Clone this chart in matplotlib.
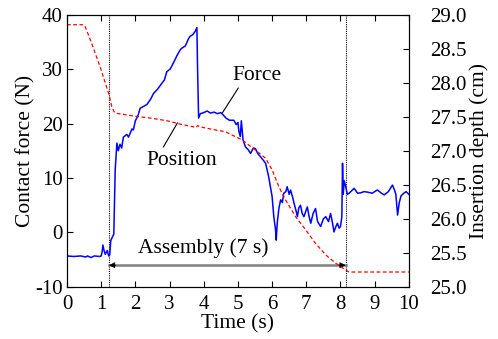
import numpy as np
import matplotlib.pyplot as plt

plt.rcParams['font.family'] = ['Liberation Serif', 'DejaVu Serif']
plt.rcParams['font.size'] = 15.5
plt.rcParams['axes.unicode_minus'] = False

# contact force (N) vs time (s)
force_t = [0.0, 0.2, 0.4, 0.55, 0.6, 0.7, 0.8, 0.95, 1.0, 1.03,
           1.05, 1.08, 1.12, 1.18, 1.22, 1.25, 1.28, 1.33, 1.37, 1.39,
           1.41, 1.44, 1.46, 1.5, 1.55, 1.6, 1.65, 1.75, 1.8, 1.9,
           1.94, 2.0, 2.08, 2.14, 2.2, 2.34, 2.45, 2.53, 2.65, 2.73,
           2.85, 2.92, 3.02, 3.12, 3.22, 3.32, 3.4, 3.46, 3.55, 3.6,
           3.68, 3.75, 3.8, 3.82, 3.85, 3.9, 4.0, 4.1, 4.2, 4.3,
           4.4, 4.5, 4.58, 4.65, 4.75, 4.88, 4.95, 5.0, 5.03, 5.07,
           5.1, 5.15, 5.22, 5.3, 5.37, 5.45, 5.51, 5.58, 5.66, 5.75,
           5.81, 5.9, 6.0, 6.05, 6.1, 6.12, 6.15, 6.2, 6.25, 6.3,
           6.34, 6.4, 6.44, 6.5, 6.54, 6.6, 6.64, 6.7, 6.74, 6.78,
           6.83, 6.88, 6.93, 6.98, 7.03, 7.08, 7.13, 7.2, 7.27, 7.33,
           7.42, 7.5, 7.57, 7.65, 7.71, 7.76, 7.81, 7.86, 7.91, 7.96,
           8.0, 8.04, 8.06, 8.08, 8.11, 8.15, 8.2, 8.25, 8.3, 8.4,
           8.5, 8.6, 8.69, 8.8, 8.93, 9.0, 9.08, 9.2, 9.28, 9.4,
           9.52, 9.58, 9.62, 9.67, 9.72, 9.77, 9.85, 9.92, 10.0]
force_n = [-4.3, -4.4, -4.3, -4.5, -4.3, -4.6, -4.3, -4.4, -4.3, -3.5,
           -2.3, -3.2, -4.0, -3.3, -4.3, -4.1, -1.5, -0.8, -0.3, 6.0,
           11.5, 14.5, 16.4, 15.0, 16.2, 15.5, 17.5, 18.0, 17.5, 19.0,
           18.8, 20.5, 21.5, 22.8, 23.0, 23.5, 24.5, 25.5, 26.3, 27.0,
           28.0, 29.5, 30.0, 31.2, 32.5, 33.6, 34.0, 34.2, 35.5, 36.0,
           36.3, 36.9, 37.6, 30.0, 21.0, 21.8, 22.0, 22.3, 21.9, 22.1,
           21.8, 22.0, 21.5, 21.0, 20.6, 20.6, 19.8, 20.2, 18.5, 17.6,
           20.5, 17.0, 15.7, 15.2, 14.5, 15.5, 15.4, 14.5, 13.9, 13.2,
           12.7, 10.2, 6.6, 2.9, 0.5, -1.4, 1.7, 4.5, 6.0, 5.5,
           7.2, 7.5, 8.4, 7.0, 7.8, 6.5, 5.4, 4.0, 2.9, 4.5,
           5.0, 3.5, 2.9, 3.8, 4.7, 3.0, 1.7, 3.5, 4.4, 2.0,
           1.1, 2.5, 2.9, 2.0, 3.5, 2.0, 0.1, 1.0, 1.7, 0.8,
           1.1, 2.9, 12.7, 7.0, 9.5, 8.5, 7.0, 7.2, 7.5, 8.1,
           7.2, 7.3, 7.5, 7.4, 7.2, 7.5, 7.8, 7.2, 6.9, 7.5,
           8.7, 7.8, 7.0, 3.2, 5.5, 6.7, 7.2, 7.5, 7.0]

# insertion depth (cm) vs time (s)
pos_t = [0.0, 0.5, 0.55, 0.72, 0.97, 1.22, 1.31, 1.38, 1.45, 1.95,
         2.44, 2.93, 3.32, 3.71, 3.78, 3.82, 3.9, 4.39, 4.63, 5.12,
         5.51, 5.81, 6.0, 6.2, 6.39, 6.69, 6.98, 7.27, 7.57, 7.86,
         8.0, 8.15, 8.25, 10.0]
pos_cm = [28.85, 28.85, 28.8, 28.58, 28.23, 27.84, 27.65, 27.57, 27.55, 27.51,
          27.48, 27.44, 27.39, 27.35, 27.34, 27.37, 27.35, 27.30, 27.28, 27.16,
          27.01, 26.89, 26.72, 26.47, 26.28, 26.03, 25.84, 25.64, 25.47, 25.35,
          25.30, 25.25, 25.22, 25.22]

t_start, t_end = 1.23, 8.15
arrow_y = -6.0

fig = plt.figure(figsize=(4.98, 3.39), dpi=100)
ax = fig.add_axes([0.1345, 0.1534, 0.6865, 0.8038])
ax2 = ax.twinx()

ax.plot(force_t, force_n, color='blue', lw=1.1, zorder=3)
ax2.plot(pos_t, pos_cm, color='red', lw=0.9, linestyle=(0, (3, 2)))

for tv in (t_start, t_end):
    ax.axvline(tv, color='black', lw=0.8, linestyle=(0, (1, 1)))

# assembly span arrow: gray shaft, small black heads
ax.plot([t_start, t_end], [arrow_y, arrow_y], color='gray', lw=1.8)
ax.annotate('', xy=(t_start, arrow_y), xytext=(t_start + 0.2, arrow_y),
            arrowprops=dict(arrowstyle='-|>', color='black', lw=0.5,
                            mutation_scale=9, shrinkA=0, shrinkB=0))
ax.annotate('', xy=(t_end, arrow_y), xytext=(t_end - 0.2, arrow_y),
            arrowprops=dict(arrowstyle='-|>', color='black', lw=0.5,
                            mutation_scale=9, shrinkA=0, shrinkB=0))
ax.text(3.98, -2.8, 'Assembly (7 s)', ha='center', va='center')

ax.text(5.55, 28.9, 'Force', ha='center', va='center')
ax.plot([5.01, 4.54], [26.5, 21.9], color='black', lw=0.8)
ax.text(3.37, 13.3, 'Position', ha='center', va='center')
ax.plot([2.82, 3.23], [15.7, 20.1], color='black', lw=0.8)

ax.set_xlim(0, 10)
ax.set_ylim(-10, 40)
ax2.set_ylim(25.0, 29.0)
ax.set_xticks(range(0, 11))
ax.set_yticks([-10, 0, 10, 20, 30, 40])
ax2.set_yticks(np.arange(25.0, 29.01, 0.5))
ax2.set_yticklabels(['%.1f' % v for v in np.arange(25.0, 29.01, 0.5)])

ax.tick_params(direction='in', length=4, top=True, right=False, pad=3, labelsize=15)
ax.tick_params(axis='x', pad=6)
ax2.tick_params(direction='in', length=4, pad=15, labelsize=15)

ax.set_xlabel('Time (s)', labelpad=0)
ax.set_ylabel('Contact force (N)', labelpad=0)
ax2.set_ylabel('Insertion depth (cm)', labelpad=2)

fig.savefig('out.png', dpi=100)
